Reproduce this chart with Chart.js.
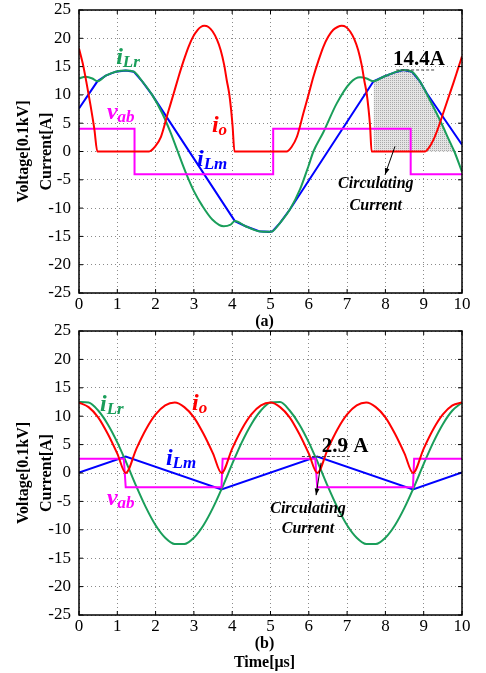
<!DOCTYPE html>
<html>
<head>
<meta charset="utf-8">
<script src="https://cdn.jsdelivr.net/npm/chart.js@4.4.1/dist/chart.umd.min.js"></script>
<style>
  body { margin: 0; background: #fff; }
  #wrap { position: relative; width: 486px; height: 673px; }
  canvas { position: absolute; left: 0; }
  #chartA { top: 0; }
  #chartB { top: 320px; }
</style>
</head>
<body>
<div id="wrap">
  <canvas id="chartA" width="486" height="330"></canvas>
  <canvas id="chartB" width="486" height="353"></canvas>
</div>
<script>
// ejes comunes
const timeTicks = [0, 1, 2, 3, 4, 5, 6, 7, 8, 9, 10];
const ampTicks = [-25, -20, -15, -10, -5, 0, 5, 10, 15, 20, 25];

// (a) io
const tIoA = [0, 0.1, 0.2, 0.3, 0.4, 0.48,
  1.83, 1.98, 2.14, 2.32, 2.47, 2.6, 2.73, 2.86, 2.98, 3.1, 3.18, 3.27, 3.38, 3.49, 3.6, 3.7, 3.79, 3.86, 3.92, 3.97, 4.01, 4.06,
  5.42, 5.55, 5.69, 5.86, 6.0, 6.12, 6.25, 6.38, 6.51, 6.64, 6.75, 6.86, 6.97, 7.08, 7.19, 7.29, 7.38, 7.45, 7.51, 7.56, 7.6, 7.64,
  9.03, 9.14, 9.25, 9.38, 9.51, 9.64, 9.77, 9.89, 10];
const ioA = [18.2, 15.5, 12.0, 8.2, 4.0, 0,
  0, 0.8, 2.6, 6.8, 10.2, 13.2, 16.0, 18.5, 20.3, 21.5, 22.0, 22.2, 22.0, 21.2, 19.8, 17.9, 15.3, 12.5, 10.3, 7.5, 4.5, 0,
  0, 0.8, 2.6, 6.8, 10.2, 13.2, 16.0, 18.5, 20.3, 21.5, 22.0, 22.2, 22.0, 21.2, 19.8, 17.9, 15.3, 12.5, 10.3, 7.5, 4.5, 0,
  0, 0.7, 2.0, 4.2, 6.8, 9.4, 12.0, 14.5, 16.8];

// (a) iLr
const tLrA = [0, 0.17, 0.35, 0.48, 0.7, 0.96, 1.22, 1.43, 1.65, 1.91,
  2.17, 2.4, 2.55, 2.78, 3.0, 3.22, 3.48, 3.78, 3.96, 4.07,
  4.35, 4.7, 4.96, 5.05, 5.25, 5.51, 5.77, 5.99, 6.12, 6.38,
  6.73, 7.08, 7.34, 7.51, 7.69, 7.95, 8.21, 8.47, 8.69, 8.9,
  9.16, 9.42, 9.69, 9.8, 10];
const iLrA = [12.9, 13.2, 12.9, 12.4, 13.4, 14.1, 14.3, 14.1, 12.4, 10.0,
  6.8, 3.2, 0.5, -3.6, -7.0, -9.6, -12.0, -13.2, -12.9, -12.3,
  -13.2, -14.1, -14.2, -14.1, -12.6, -10.2, -6.7, -2.6, 0.0, 3.4,
  8.5, 12.1, 13.1, 12.9, 12.4, 13.2, 13.9, 14.4, 14.1, 12.4,
  9.1, 5.6, 1.6, 0.0, -3.6];

// (a) iLm
const tLmA = [0, 0.48, 0.7, 0.96, 1.22, 1.43, 1.65, 1.91, 4.07, 4.35, 4.7, 4.96, 5.05, 5.25, 5.51,
  7.69, 7.95, 8.21, 8.47, 8.69, 8.9, 9.08, 10];
const iLmA = [7.6, 12.4, 13.4, 14.1, 14.3, 14.1, 12.4, 10.0, -12.3, -13.2, -14.1, -14.2, -14.1, -12.6, -10.2,
  12.4, 13.2, 13.9, 14.4, 14.1, 12.4, 10.3, 1.2];

// (a) vab
const tVabA = [0, 1.45, 1.45, 5.07, 5.07, 8.66, 8.66, 10];
const vabA = [4, 4, -4, -4, 4, 4, -4, -4];

// (a) zona sombreada (corriente circulante)
const shadeFromA = 7.69;
const shadeToA = 9.8;

// (b) io
const tIoB = [0, 0.25, 0.5, 0.75, 1.0, 1.22, 1.5, 1.75, 2.0, 2.25, 2.5, 2.75, 3.0, 3.25, 3.5, 3.72,
  4.0, 4.25, 4.5, 4.75, 5.0, 5.25, 5.5, 5.75, 6.0, 6.22, 6.5, 6.75, 7.0, 7.25, 7.5, 7.75, 8.0, 8.25, 8.5, 8.72,
  9.0, 9.25, 9.5, 9.75, 10];
const ioB = [12.4, 11.6, 9.8, 6.9, 3.4, 0, 4.3, 7.7, 10.3, 11.9, 12.4, 11.6, 9.8, 6.9, 3.4, 0,
  4.3, 7.7, 10.3, 11.9, 12.4, 11.6, 9.8, 6.9, 3.4, 0, 4.3, 7.7, 10.3, 11.9, 12.4, 11.6, 9.8, 6.9, 3.4, 0,
  4.3, 7.7, 10.3, 11.9, 12.4];

// (b) iLr
const tLrB = [0, 0.25, 0.5, 0.75, 1.0, 1.25, 1.5, 1.75, 2.0, 2.25, 2.5, 2.75, 3.0, 3.25, 3.5, 3.75,
  4.0, 4.25, 4.5, 4.75, 5.0, 5.25, 5.5, 5.75, 6.0, 6.25, 6.5, 6.75, 7.0, 7.25, 7.5, 7.75, 8.0, 8.25, 8.5, 8.75,
  9.0, 9.25, 9.5, 9.75, 10];
const iLrB = [12.5, 12.4, 11.0, 8.6, 5.4, 1.6, -2.4, -6.1, -9.2, -11.4, -12.5, -12.5, -11.4, -9.2, -6.1, -2.4,
  1.6, 5.4, 8.6, 11.0, 12.4, 12.5, 11.0, 8.6, 5.4, 1.6, -2.4, -6.1, -9.2, -11.4, -12.5, -12.5, -11.4, -9.2, -6.1, -2.4,
  1.6, 5.4, 8.6, 11.0, 12.4];

// (b) iLm
const tLmB = [0, 1.22, 3.72, 6.22, 8.72, 10];
const iLmB = [0.1, 2.9, -2.9, 2.9, -2.9, 0.1];

// (b) vab
const tVabB = [0, 1.17, 1.22, 3.72, 3.75, 6.17, 6.22, 8.72, 8.75, 10];
const vabB = [2.5, 2.5, -2.5, -2.5, 2.5, 2.5, -2.5, -2.5, 2.5, 2.5];

const SERIF = '"Liberation Serif", "Times New Roman", serif';
const C_IO = '#ff0000', C_LR = '#1a9e5a', C_LM = '#0000ff', C_VAB = '#ff00ff';

const pts = (ts, vs) => ts.map((t, i) => ({ x: t, y: vs[i] }));

// textura punteada gris
function stipple(canvasId) {
    const tile = document.createElement('canvas');
    tile.width = 2; tile.height = 2;
    const g = tile.getContext('2d');
    g.fillStyle = '#e4e4e4'; g.fillRect(0, 0, 2, 2);
    g.fillStyle = '#a9a9a9'; g.fillRect(0, 0, 1, 1);
    return document.getElementById(canvasId).getContext('2d').createPattern(tile, 'repeat');
}

function curve(data, color, smooth) {
    return {
        data, borderColor: color, borderWidth: 2, pointRadius: 0, fill: false,
        tension: 0, cubicInterpolationMode: smooth ? 'monotone' : 'default'
    };
}

function drawArrow(ctx, x0, y0, x1, y1) {
    const ang = Math.atan2(y1 - y0, x1 - x0);
    ctx.beginPath();
    ctx.moveTo(x0, y0); ctx.lineTo(x1, y1);
    ctx.stroke();
    ctx.beginPath();
    ctx.moveTo(x1, y1);
    ctx.lineTo(x1 - 7 * Math.cos(ang - 0.35), y1 - 7 * Math.sin(ang - 0.35));
    ctx.lineTo(x1 - 7 * Math.cos(ang + 0.35), y1 - 7 * Math.sin(ang + 0.35));
    ctx.closePath();
    ctx.fill();
}

// marco, marcas y anotaciones
const notesPlugin = {
    id: 'notes',
    afterDatasetsDraw(chart, args, opts) {
        const { ctx, chartArea: a, scales: { x, y } } = chart;
        ctx.save();

        // marco
        ctx.strokeStyle = '#000';
        ctx.lineWidth = 1.5;
        ctx.strokeRect(a.left, a.top, a.right - a.left, a.bottom - a.top);
        ctx.lineWidth = 1;
        ctx.beginPath();
        timeTicks.forEach(v => {
            const px = x.getPixelForValue(v);
            ctx.moveTo(px, a.bottom); ctx.lineTo(px, a.bottom - 4);
            ctx.moveTo(px, a.top); ctx.lineTo(px, a.top + 4);
        });
        ampTicks.forEach(v => {
            const py = y.getPixelForValue(v);
            ctx.moveTo(a.left, py); ctx.lineTo(a.left + 4, py);
            ctx.moveTo(a.right, py); ctx.lineTo(a.right - 4, py);
        });
        ctx.stroke();

        (opts.items || []).forEach(it => {
            if (it.kind === 'sym') {
                const px = x.getPixelForValue(it.x), py = y.getPixelForValue(it.y);
                ctx.fillStyle = it.color;
                ctx.textAlign = 'left';
                ctx.textBaseline = 'alphabetic';
                ctx.font = `italic bold 24px ${SERIF}`;
                ctx.fillText(it.main, px, py);
                const w = ctx.measureText(it.main).width;
                ctx.font = `italic bold 17px ${SERIF}`;
                ctx.fillText(it.sub, px + w, py + 3);
            } else if (it.kind === 'text') {
                ctx.fillStyle = '#000';
                ctx.textAlign = it.align || 'left';
                ctx.textBaseline = 'alphabetic';
                ctx.font = it.font;
                ctx.fillText(it.text, x.getPixelForValue(it.x), y.getPixelForValue(it.y));
            } else if (it.kind === 'dash') {
                ctx.strokeStyle = '#444';
                ctx.setLineDash([3, 2]);
                ctx.beginPath();
                ctx.moveTo(x.getPixelForValue(it.x0), y.getPixelForValue(it.y));
                ctx.lineTo(x.getPixelForValue(it.x1), y.getPixelForValue(it.y));
                ctx.stroke();
                ctx.setLineDash([]);
            } else if (it.kind === 'arrow') {
                ctx.strokeStyle = '#000';
                ctx.fillStyle = '#000';
                drawArrow(ctx, x.getPixelForValue(it.x0), y.getPixelForValue(it.y0),
                    x.getPixelForValue(it.x1), y.getPixelForValue(it.y1));
            }
        });

        // titulo del eje x
        ctx.fillStyle = '#000';
        ctx.textAlign = 'center';
        ctx.textBaseline = 'alphabetic';
        ctx.font = `bold 16px ${SERIF}`;
        const cx = (a.left + a.right) / 2 - 6;
        (opts.xTitle || []).forEach((line, i) => {
            ctx.fillText(line, cx, a.bottom + 33 + i * 19);
        });
        ctx.restore();
    }
};

function makeOptions(xHeight, padTop, items, xTitle) {
    return {
        responsive: false,
        animation: false,
        layout: { padding: { left: 0, right: 24, top: padTop, bottom: 0 } },
        plugins: {
            legend: { display: false },
            tooltip: { enabled: false },
            notes: { items, xTitle }
        },
        scales: {
            x: {
                type: 'linear', min: 0, max: 10,
                afterBuildTicks: s => { s.ticks = timeTicks.map(v => ({ value: v })); },
                afterFit: s => { s.height = xHeight; },
                ticks: { color: '#000', padding: 1, maxRotation: 0, font: { family: SERIF, size: 17 } },
                grid: { color: '#8a8a8a', lineWidth: 1, drawTicks: false },
                border: { display: false, dash: [1, 3] }
            },
            y: {
                min: -25, max: 25,
                afterBuildTicks: s => { s.ticks = ampTicks.map(v => ({ value: v })); },
                // ancho fijo del eje y sin margen extra arriba/abajo
                afterFit: s => { s.width = 79; s.paddingTop = 0; s.paddingBottom = 0; },
                ticks: { color: '#000', padding: 8, font: { family: SERIF, size: 17 } },
                grid: { color: '#8a8a8a', lineWidth: 1, drawTicks: false },
                border: { display: false, dash: [1, 3] },
                title: {
                    display: true,
                    text: ['Voltage[0.1kV]', 'Current[A]'],
                    color: '#000',
                    padding: { top: 12, bottom: 0 },
                    font: { family: SERIF, size: 16, weight: 'bold', lineHeight: 1.45 }
                }
            }
        }
    };
}

// grafico (a)
const greenA = pts(tLrA, iLrA);
const shadeA = greenA.filter(p => p.x >= shadeFromA && p.x <= shadeToA);

new Chart(document.getElementById('chartA'), {
    type: 'line',
    data: {
        datasets: [
            curve(pts(tIoA, ioA), C_IO, true),
            curve(pts(tVabA, vabA), C_VAB, false),
            curve(greenA, C_LR, true),
            curve(pts(tLmA, iLmA), C_LM, false),
            {
                data: shadeA, borderWidth: 0, pointRadius: 0, fill: 'origin',
                backgroundColor: stipple('chartA'), cubicInterpolationMode: 'monotone'
            }
        ]
    },
    options: makeOptions(37, 10, [
        { kind: 'sym', x: 0.97, y: 15.5, main: 'i', sub: 'Lr', color: C_LR },
        { kind: 'sym', x: 0.73, y: 5.8, main: 'v', sub: 'ab', color: C_VAB },
        { kind: 'sym', x: 3.47, y: 3.5, main: 'i', sub: 'o', color: C_IO },
        { kind: 'sym', x: 3.08, y: -2.65, main: 'i', sub: 'Lm', color: C_LM },
        { kind: 'text', x: 8.2, y: 15.2, text: '14.4A', font: `bold 21px ${SERIF}` },
        { kind: 'dash', x0: 8.28, x1: 9.32, y: 14.4 },
        { kind: 'arrow', x0: 8.25, y0: 0.9, x1: 7.99, y1: -4.1 },
        { kind: 'text', x: 7.75, y: -6.5, text: 'Circulating', align: 'center', font: `italic bold 16px ${SERIF}` },
        { kind: 'text', x: 7.75, y: -10.4, text: 'Current', align: 'center', font: `italic bold 16px ${SERIF}` }
    ], ['(a)']),
    plugins: [notesPlugin]
});

// grafico (b)
new Chart(document.getElementById('chartB'), {
    type: 'line',
    data: {
        datasets: [
            curve(pts(tIoB, ioB), C_IO, true),
            curve(pts(tVabB, vabB), C_VAB, false),
            curve(pts(tLrB, iLrB), C_LR, true),
            curve(pts(tLmB, iLmB), C_LM, false)
        ]
    },
    options: makeOptions(58, 11, [
        { kind: 'sym', x: 0.55, y: 10.9, main: 'i', sub: 'Lr', color: C_LR },
        { kind: 'sym', x: 2.95, y: 11.1, main: 'i', sub: 'o', color: C_IO },
        { kind: 'sym', x: 2.27, y: 1.4, main: 'i', sub: 'Lm', color: C_LM },
        { kind: 'sym', x: 0.73, y: -5.6, main: 'v', sub: 'ab', color: C_VAB },
        { kind: 'text', x: 6.34, y: 3.7, text: '2.9 A', font: `bold 21px ${SERIF}` },
        { kind: 'dash', x0: 5.82, x1: 7.08, y: 2.9 },
        { kind: 'arrow', x0: 6.32, y0: 1.8, x1: 6.19, y1: -3.9 },
        { kind: 'text', x: 5.98, y: -7.0, text: 'Circulating', align: 'center', font: `italic bold 16px ${SERIF}` },
        { kind: 'text', x: 5.98, y: -10.6, text: 'Current', align: 'center', font: `italic bold 16px ${SERIF}` }
    ], ['(b)', 'Time[\u03bcs]']),
    plugins: [notesPlugin]
});
</script>
</body>
</html>
